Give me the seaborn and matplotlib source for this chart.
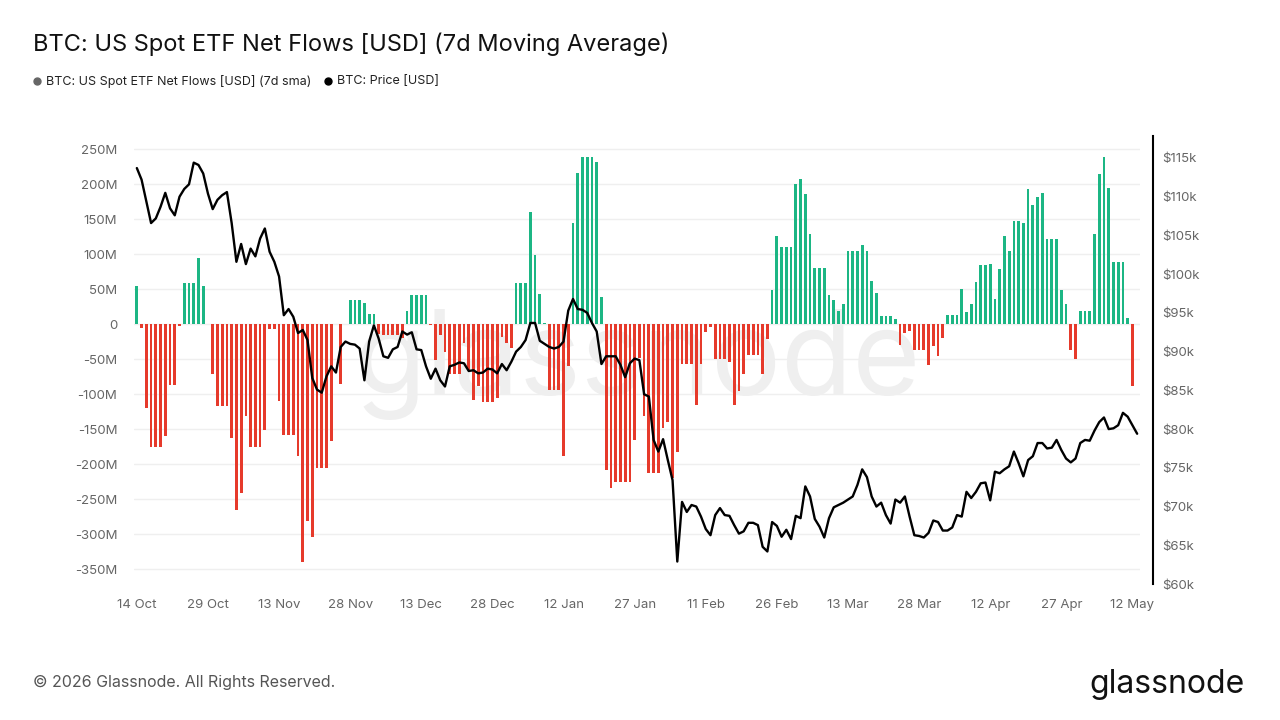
import numpy as np
import pandas as pd
import matplotlib
matplotlib.use("Agg")
import matplotlib.pyplot as plt
import seaborn as sns
from matplotlib.lines import Line2D

# daily points, 14 Oct 2025 .. 13 May 2026
dates = pd.date_range("2025-10-14", "2026-05-13", freq="D")

# US spot ETF net flows, 7d sma, million USD (nan = no bar)
flows_m = [
    54, -5, -120, -175, -175, -175, -160, -87, -87, -3,
    58, 58, 58, 94, 55, 0, -72, -117, -117, -117,
    -163, -266, -241, -131, -176, -176, -176, -152, -7, -7,
    -110, -158, -158, -158, -188, -340, -282, -304, -205, -205,
    -205, -167, np.nan, -86, np.nan, 34, 34, 34, 30, 15,
    15, -14, -15, -15, -15, -16, -20, 18, 41, 41,
    41, 41, -2, -52, -16, -40, -72, -72, -72, -27,
    -65, -109, -89, -112, -112, -112, -106, -19, -27, -34,
    58, 58, 58, 160, 98, 43, 2, -94, -94, -94,
    -188, -60, 145, 216, 238, 238, 238, 232, 38, -208,
    -234, -225, -225, -225, -225, -166, -49, -131, -213, -213,
    -213, -149, -140, -220, -183, -57, -57, -57, -115, -57,
    -12, -4, -50, -50, -50, -54, -116, -95, -71, -44,
    -44, -44, -72, -22, 48, 126, 110, 110, 110, 200,
    207, 186, 128, 80, 80, 80, 41, 34, 18, 29,
    104, 104, 104, 113, 105, 62, 44, 12, 12, 12,
    7, -30, -13, -10, -37, -37, -37, -58, -31, -46,
    -20, 13, 13, 13, 50, 17, 29, 60, 85, 85,
    86, 36, 79, 126, 104, 147, 147, 145, 193, 170,
    181, 187, 122, 122, 121, 49, 28, -37, -50, 18,
    18, 19, 129, 214, 238, 194, 88, 88, 88, 9,
    -89, np.nan,
]

# BTC price, thousand USD
price_k = [
    113.7, 112.2, 109.4, 106.6, 107.2, 108.7, 110.5, 108.5, 107.6, 110.0,
    111.0, 111.6, 114.4, 114.1, 113.0, 110.4, 108.4, 109.6, 110.2, 110.6,
    106.6, 101.6, 103.9, 101.3, 103.3, 102.3, 104.6, 105.9, 102.9, 101.6,
    99.7, 94.7, 95.5, 94.5, 92.4, 92.8, 91.5, 86.6, 85.1, 84.7,
    86.8, 88.1, 87.3, 90.6, 91.3, 91.0, 90.9, 90.4, 86.3, 91.3,
    93.4, 91.7, 89.4, 89.2, 90.3, 90.6, 92.6, 92.2, 92.5, 90.3,
    90.2, 88.1, 86.5, 87.8, 86.3, 85.5, 88.1, 88.3, 88.6, 88.5,
    87.5, 87.6, 87.2, 87.3, 87.8, 87.7, 87.2, 88.4, 87.6, 88.7,
    90.0, 90.6, 91.5, 93.7, 93.7, 91.4, 91.0, 90.6, 90.4, 90.6,
    91.3, 95.3, 96.8, 95.5, 95.4, 95.0, 93.7, 92.6, 88.4, 89.4,
    89.4, 89.4, 88.3, 86.7, 88.5, 89.1, 88.9, 84.5, 84.2, 78.6,
    77.1, 78.7, 76.0, 73.4, 62.9, 70.6, 69.3, 70.2, 70.0, 68.7,
    67.1, 66.3, 68.9, 69.8, 68.9, 68.8, 67.6, 66.5, 66.8, 67.9,
    67.9, 67.6, 64.8, 64.2, 68.0, 67.5, 66.1, 67.0, 65.8, 68.8,
    68.5, 72.6, 71.3, 68.4, 67.4, 66.0, 68.5, 69.9, 70.2, 70.5,
    70.9, 71.3, 72.8, 74.8, 73.8, 71.3, 70.0, 70.5, 68.9, 67.8,
    70.9, 70.5, 71.3, 68.7, 66.3, 66.2, 66.0, 66.6, 68.2, 68.0,
    66.9, 66.9, 67.3, 68.9, 68.7, 71.9, 71.1, 71.9, 73.0, 73.1,
    70.8, 74.5, 74.3, 74.8, 75.2, 77.1, 75.6, 73.9, 76.0, 76.5,
    78.2, 78.2, 77.5, 77.6, 78.6, 77.3, 76.2, 75.7, 76.2, 78.2,
    78.6, 78.5, 79.8, 80.9, 81.5, 80.0, 80.1, 80.5, 82.1, 81.6,
    80.5, 79.4,
]

flow_ticks = [250, 200, 150, 100, 50, 0, -50, -100, -150, -200, -250, -300, -350]
flow_labels = ["250M", "200M", "150M", "100M", "50M", "0", "-50M", "-100M",
               "-150M", "-200M", "-250M", "-300M", "-350M"]
price_ticks = [60, 65, 70, 75, 80, 85, 90, 95, 100, 105, 110, 115]
price_labels = ["$60k", "$65k", "$70k", "$75k", "$80k", "$85k", "$90k",
                "$95k", "$100k", "$105k", "$110k", "$115k"]

GREEN = "#1cb684"
RED = "#e63a2b"
GREY = "#666666"

df = pd.DataFrame({"day": np.arange(len(dates)), "flow": flows_m, "price": price_k})
df["side"] = np.where(df["flow"] >= 0, "in", "out")
bars = df.dropna(subset=["flow"])

sns.set_theme(style="white")
plt.rcParams["font.family"] = ["Inter", "DejaVu Sans"]

fig = plt.figure(figsize=(12.8, 7.2), dpi=100)
ax = fig.add_axes([134 / 1280, 136 / 720, 1006 / 1280, 448 / 720])
ax.set_facecolor("none")

# watermark
ax.text(0.5, 0.49, "glassnode", transform=ax.transAxes, fontsize=84,
        color="#efefef", ha="center", va="center", zorder=0)

sns.barplot(data=bars, x="day", y="flow", hue="side",
            palette={"in": GREEN, "out": RED}, native_scale=True, dodge=False,
            width=0.58, saturation=1, errorbar=None, legend=False,
            linewidth=0, ax=ax, zorder=2)

ax.set_xlim(-0.6, 211.6)
ax.set_ylim(-371.4, 268.6)
ax.set_yticks(flow_ticks, flow_labels)
ax.yaxis.grid(True, color="#efefef", lw=1)
ax.xaxis.grid(False)
ax.set_axisbelow(True)
ax.set_xlabel("")
ax.set_ylabel("")
for s in ax.spines.values():
    s.set_visible(False)

xt = list(range(0, 211, 15))
ax.set_xticks(xt, [f"{dates[i].day} {dates[i].strftime('%b')}" for i in xt])
ax.tick_params(axis="x", colors="#dddddd", length=8, width=1, pad=3,
               labelcolor=GREY, labelsize=9.5)
ax.tick_params(axis="y", length=0, pad=12, labelcolor=GREY, labelsize=9.5)

ax2 = ax.twinx()
sns.lineplot(data=df, x="day", y="price", color="black", lw=1.7, ax=ax2)
ax2.set_ylim(60, 117.84)
ax2.set_yticks(price_ticks, price_labels)
ax2.set_xlim(-0.6, 211.6)
ax2.grid(False)
ax2.set_ylabel("")
for k, s in ax2.spines.items():
    s.set_visible(k == "right")
ax2.spines["right"].set_color("black")
ax2.spines["right"].set_linewidth(1.5)
ax2.spines["right"].set_position(("outward", 9))
ax2.tick_params(axis="y", length=0, pad=7, labelcolor=GREY, labelsize=9.5)

# title, legend, footer
fig.text(33 / 1280, 1 - 44 / 720, "BTC: US Spot ETF Net Flows [USD] (7d Moving Average)",
         fontsize=17, color="#111111", va="center", ha="left")
fig.add_artist(Line2D([37 / 1280], [1 - 81 / 720], marker="o", ls="none",
                      color="#666666", markersize=5, transform=fig.transFigure))
fig.text(46 / 1280, 1 - 81 / 720, "BTC: US Spot ETF Net Flows [USD] (7d sma)",
         fontsize=9, color="#222222", va="center")
fig.add_artist(Line2D([328 / 1280], [1 - 81 / 720], marker="o", ls="none",
                      color="black", markersize=5, transform=fig.transFigure))
fig.text(337 / 1280, 1 - 81 / 720, "BTC: Price [USD]",
         fontsize=9, color="#222222", va="center")
fig.text(33 / 1280, 1 - 682 / 720, "© 2026 Glassnode. All Rights Reserved.",
         fontsize=11.5, color="#555555", va="center")
fig.text(1245 / 1280, 1 - 684 / 720, "glassnode", fontsize=23, color="#111111",
         va="center", ha="right")

fig.savefig("out.png", dpi=100)
